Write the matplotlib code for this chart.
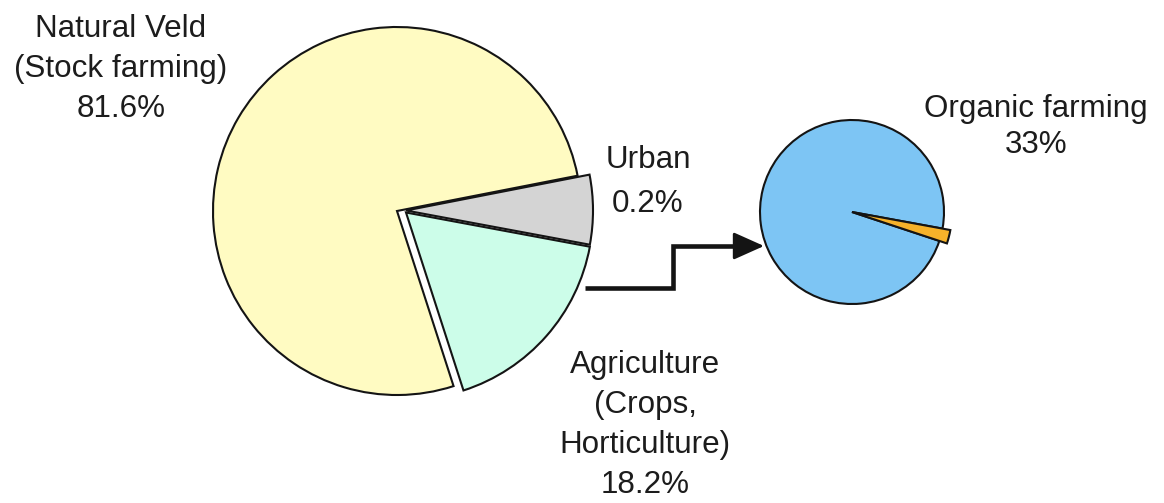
import matplotlib
matplotlib.use('Agg')
import matplotlib.pyplot as plt

# Datos del grafico
land_labels = ['Natural Veld\n(Stock farming)', 'Urban', 'Agriculture\n(Crops,\nHorticulture)']
land_pct = [81.6, 0.2, 18.2]          # porcentajes impresos
land_drawn = [76.9, 6.0, 17.1]        # tamano dibujado de las cunas (no a escala)
organic_label = 'Organic farming'
organic_pct = 33
organic_drawn = [97.8, 2.2]           # resto / organico, tal como se dibuja

land_colors = ['#fffbc2', '#d4d4d4', '#ccfde9']
organic_colors = ['#7dc5f4', '#f6b22a']
edge = '#141414'

fig = plt.figure(figsize=(11.64, 5.03), dpi=100)
ax = fig.add_axes([0, 0, 1, 1])

# Pastel principal
wedges, _ = ax.pie(land_drawn, colors=land_colors, startangle=-72.1, counterclock=False,
                   center=(397, 292), radius=184,
                   wedgeprops=dict(edgecolor=edge, linewidth=1.5))
# Separar urbano y agricultura juntos
wedges[1].set_center((406, 292.5))
wedges[2].set_center((406, 290.5))
for w in wedges[1:]:
    w.set_radius(187)

# Pastel pequeno
sw, _ = ax.pie(organic_drawn, colors=organic_colors, startangle=-10.4,
               center=(852, 291), radius=92,
               wedgeprops=dict(edgecolor=edge, linewidth=1.5))
sw[1].set_radius(100)

# Flecha escalonada
ax.plot([585, 673, 673, 745], [215, 215, 257, 257], color=edge, lw=3.3,
        solid_joinstyle='miter', solid_capstyle='butt')
ax.annotate('', xy=(764, 257), xytext=(735, 257),
            arrowprops=dict(arrowstyle='-|>,head_length=1.9,head_width=0.85',
                            color=edge, lw=2, mutation_scale=10,
                            shrinkA=0, shrinkB=0))

# Etiquetas (posicion = linea base de la ultima linea)
text_kw = dict(ha='center', va='baseline', fontsize=22.6, family='Liberation Sans',
               color='#1c1c1c', multialignment='center')
label_pos = [(121, 386), (648, 291), (645, 10)]
label_spacing = [1.44, 1.61, 1.44]
for lab, pct, (x, y), ls in zip(land_labels, land_pct, label_pos, label_spacing):
    ax.text(x, y, f'{lab}\n{pct:g}%', linespacing=ls, **text_kw)
ax.text(1036, 350, f'{organic_label}\n{organic_pct:g}%', linespacing=1.28, **text_kw)

ax.set_xlim(0, 1164)
ax.set_ylim(0, 503)
ax.set_aspect('equal')
ax.axis('off')

plt.savefig('out.png', dpi=100)
